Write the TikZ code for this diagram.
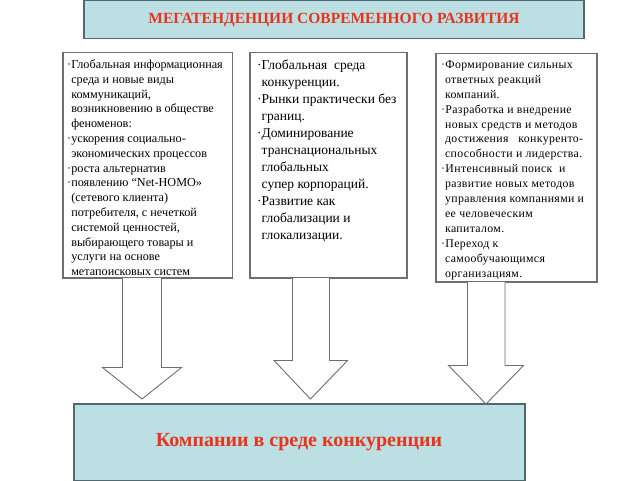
\documentclass[tikz,border=0pt]{standalone}
\usepackage{fontspec}
\setmainfont{Liberation Serif}
\definecolor{boxfill}{RGB}{187,223,227}
\definecolor{boxdraw}{RGB}{80,105,110}
\definecolor{titlered}{RGB}{232,52,28}
\definecolor{greyline}{RGB}{110,110,110}
\tikzset{
  bluebox/.style={draw=boxdraw, fill=boxfill, line width=1.6pt},
  whitebox/.style={draw=greyline, fill=white, line width=1.2pt},
  bodytext/.style={anchor=north west, inner sep=0pt, align=left, text=black},
  blockarrow/.style={draw=greyline, fill=white, line width=0.9pt, line join=miter},
}
\newcommand{\bl}{\textperiodcentered}
\newcommand{\ind}{\hphantom{\textperiodcentered}}
\begin{document}
\begin{tikzpicture}[x=1pt,y=-1pt]
\useasboundingbox (0,0) rectangle (640,480);
% title box
\draw[bluebox] (84,0) rectangle (584,38.5);
\node[text=titlered, font=\bfseries\fontsize{15.5}{17}\selectfont] (title) at (334,20) {МЕГАТЕНДЕНЦИИ СОВРЕМЕННОГО РАЗВИТИЯ};
% column boxes
\draw[whitebox] (63,52.5) rectangle (232.5,278);
\draw[whitebox] (250,52.5) rectangle (407,278);
\draw[whitebox] (436,53.5) rectangle (597,282);
\node[bodytext, font=\fontsize{12.2}{14.8}\selectfont] (t1) at (67,59.5) {%
\bl Глобальная информационная\\
\ind среда и новые виды\\
\ind коммуникаций,\\
\ind возникновению в обществе\\
\ind феноменов:\\
\bl ускорения социально-\\
\ind экономических процессов\\
\bl роста альтернатив\\
\bl появлению “Net-HOMO»\\
\ind (сетевого клиента)\\
\ind потребителя, с нечеткой\\
\ind системой ценностей,\\
\ind выбирающего товары и\\
\ind услуги на основе\\
\ind метапоисковых систем};
\node[bodytext, font=\fontsize{13.5}{17}\selectfont] (t2) at (257,60) {%
\bl Глобальная\ \ среда\\
\ind конкуренции.\\
\bl Рынки практически без\\
\ind границ.\\
\bl Доминирование\\
\ind транснациональных\\
\ind глобальных\\
\ind супер корпораций.\\
\bl Развитие как\\
\ind глобализации и\\
\ind глокализации.};
\node[bodytext, font=\fontsize{11.8}{14.9}\selectfont\addfontfeature{LetterSpace=3}] (t3) at (441,60.5) {%
\bl Формирование сильных\\
\ind ответных реакций\\
\ind компаний.\\
\bl Разработка и внедрение\\
\ind новых средств и методов\\
\ind достижения\ \ \ конкуренто-\\
\ind способности и лидерства.\\
\bl Интенсивный поиск\ \ и\\
\ind развитие новых методов\\
\ind управления компаниями и\\
\ind ее человеческим\\
\ind капиталом.\\
\bl Переход к\\
\ind самообучающимся\\
\ind организациям.};
% bottom box
\draw[bluebox] (74,404) rectangle (525,481);
\node[text=titlered, font=\bfseries\fontsize{20}{24}\selectfont] (comp) at (299,442) {Компании в среде конкуренции};
% block arrows
\draw[blockarrow] (122.5,278) -- (122.5,367.5) -- (102.5,367.5) -- (142,399) -- (181.5,367.5) -- (161.5,367.5) -- (161.5,278);
\draw[blockarrow] (292.5,278) -- (292.5,360.5) -- (274,360.5) -- (310.5,399) -- (347.5,360.5) -- (329.5,360.5) -- (329.5,278);
\draw[blockarrow] (467.5,282) -- (467.5,365.5) -- (448.5,365.5) -- (486,404) -- (523.5,365.5) -- (505,365.5) -- (505,282);
\end{tikzpicture}
\end{document}
